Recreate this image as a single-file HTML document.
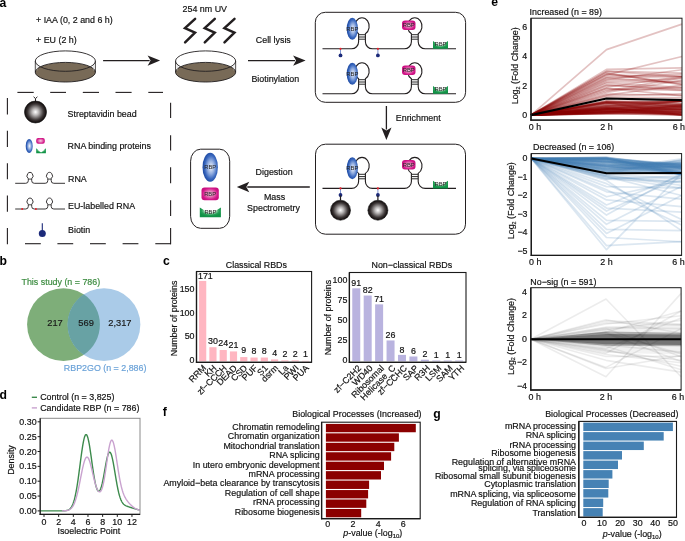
<!DOCTYPE html>
<html><head><meta charset="utf-8"><style>
html,body{margin:0;padding:0;background:#fff;width:685px;height:541px;overflow:hidden}
svg{display:block;will-change:transform}
text{font-family:"Liberation Sans",sans-serif;stroke:currentColor;stroke-width:0.18px}
</style></head><body>
<svg width="685" height="541" viewBox="0 0 685 541" font-family="Liberation Sans, sans-serif">
<rect width="685" height="541" fill="#fff"/>

<defs>
 <radialGradient id="bead" cx="0.5" cy="0.5" r="0.5" fx="0.5" fy="0.5">
  <stop offset="0" stop-color="#ffffff"/><stop offset="0.3" stop-color="#b9b6b6"/><stop offset="0.72" stop-color="#3e3838"/><stop offset="0.9" stop-color="#1e1818"/><stop offset="1" stop-color="#120d0d"/>
 </radialGradient>
 <radialGradient id="gblue" cx="0.55" cy="0.5" r="0.5">
  <stop offset="0" stop-color="#f4f7fd"/><stop offset="0.45" stop-color="#93aee0"/><stop offset="0.8" stop-color="#3b69bf"/><stop offset="1" stop-color="#2350a8"/>
 </radialGradient>
 <radialGradient id="gpink" cx="0.5" cy="0.5" r="0.55">
  <stop offset="0" stop-color="#f8d0e6"/><stop offset="0.45" stop-color="#e46cb0"/><stop offset="0.8" stop-color="#d3178a"/><stop offset="1" stop-color="#c90f7e"/>
 </radialGradient>
 <radialGradient id="ggreen" cx="0.5" cy="0.35" r="0.55">
  <stop offset="0" stop-color="#ffffff"/><stop offset="0.4" stop-color="#c4e5cf"/><stop offset="0.75" stop-color="#27a057"/><stop offset="1" stop-color="#119247"/>
 </radialGradient>
</defs>
<text x="-0.60" y="6.80" font-size="12.2" text-anchor="start" fill="#000" color="#000" font-weight="bold" style="stroke:none" >a</text>
<text x="-0.40" y="265.20" font-size="12.2" text-anchor="start" fill="#000" color="#000" font-weight="bold" style="stroke:none" >b</text>
<text x="163.00" y="265.20" font-size="12.2" text-anchor="start" fill="#000" color="#000" font-weight="bold" style="stroke:none" >c</text>
<text x="-0.40" y="398.80" font-size="12.2" text-anchor="start" fill="#000" color="#000" font-weight="bold" style="stroke:none" >d</text>
<text x="491.30" y="6.30" font-size="12.2" text-anchor="start" fill="#000" color="#000" font-weight="bold" style="stroke:none" >e</text>
<text x="162.80" y="416.20" font-size="12.2" text-anchor="start" fill="#000" color="#000" font-weight="bold" style="stroke:none" >f</text>
<text x="433.20" y="417.60" font-size="12.2" text-anchor="start" fill="#000" color="#000" font-weight="bold" style="stroke:none" >g</text>
<text x="36.00" y="22.90" font-size="8.9" text-anchor="start" fill="#111" color="#111" >+ IAA (0, 2 and 6 h)</text>
<text x="36.00" y="43.10" font-size="8.9" text-anchor="start" fill="#111" color="#111" >+ EU (2 h)</text>
<ellipse cx="65.35" cy="72.2" rx="30.05" ry="9.8" fill="#786a57" stroke="#231f20" stroke-width="0.9"/>
<line x1="35.30" y1="61.10" x2="35.30" y2="72.20" stroke="#231f20" stroke-width="0.8" />
<line x1="95.40" y1="61.10" x2="95.40" y2="72.20" stroke="#231f20" stroke-width="0.8" />
<line x1="37.05" y1="63.50" x2="37.05" y2="70.50" stroke="#bbb" stroke-width="0.5" />
<line x1="93.65" y1="63.50" x2="93.65" y2="70.50" stroke="#bbb" stroke-width="0.5" />
<ellipse cx="65.35" cy="61.1" rx="30.05" ry="10.2" fill="none" stroke="#231f20" stroke-width="0.9"/>
<ellipse cx="205.6" cy="72.2" rx="30.05" ry="9.8" fill="#786a57" stroke="#231f20" stroke-width="0.9"/>
<line x1="175.55" y1="61.10" x2="175.55" y2="72.20" stroke="#231f20" stroke-width="0.8" />
<line x1="235.65" y1="61.10" x2="235.65" y2="72.20" stroke="#231f20" stroke-width="0.8" />
<line x1="177.30" y1="63.50" x2="177.30" y2="70.50" stroke="#bbb" stroke-width="0.5" />
<line x1="233.90" y1="63.50" x2="233.90" y2="70.50" stroke="#bbb" stroke-width="0.5" />
<ellipse cx="205.6" cy="61.1" rx="30.05" ry="10.2" fill="none" stroke="#231f20" stroke-width="0.9"/>
<line x1="103.1" y1="60.6" x2="149.6" y2="60.6" stroke="#231f20" stroke-width="1.3"/>
<path d="M160.1,60.6 L147.6,55.4 L150.6,60.6 L147.6,65.8 Z" fill="#231f20"/>
<line x1="248" y1="60.6" x2="295.1" y2="60.6" stroke="#231f20" stroke-width="1.3"/>
<path d="M305.6,60.6 L293.1,55.4 L296.1,60.6 L293.1,65.8 Z" fill="#231f20"/>
<line x1="386.4" y1="106" x2="386.4" y2="129.5" stroke="#231f20" stroke-width="1.3"/>
<path d="M386.4,140 L381.29999999999995,127.5 L386.4,130.5 L391.5,127.5 Z" fill="#231f20"/>
<line x1="309.8" y1="187" x2="247.3" y2="187" stroke="#231f20" stroke-width="1.3"/>
<path d="M236.8,187 L249.3,181.8 L246.3,187 L249.3,192.2 Z" fill="#231f20"/>
<text x="182.60" y="12.00" font-size="8.9" text-anchor="start" fill="#111" color="#111" >254 nm UV</text>
<polyline points="195.1,18.9 185.0,28.1 195.0,32.6 185.1,42.4" fill="none" stroke="#231f20" stroke-width="2.5" stroke-linecap="round" stroke-linejoin="miter"/>
<polyline points="214.79999999999998,18.9 204.7,28.1 214.7,32.6 204.79999999999998,42.4" fill="none" stroke="#231f20" stroke-width="2.5" stroke-linecap="round" stroke-linejoin="miter"/>
<polyline points="234.5,18.9 224.4,28.1 234.4,32.6 224.5,42.4" fill="none" stroke="#231f20" stroke-width="2.5" stroke-linecap="round" stroke-linejoin="miter"/>
<text x="255.80" y="42.50" font-size="8.9" text-anchor="start" fill="#111" color="#111" >Cell lysis</text>
<text x="251.40" y="81.70" font-size="8.9" text-anchor="start" fill="#111" color="#111" >Biotinylation</text>
<text x="395.80" y="121.30" font-size="8.9" text-anchor="start" fill="#111" color="#111" >Enrichment</text>
<text x="255.60" y="174.70" font-size="8.9" text-anchor="start" fill="#111" color="#111" >Digestion</text>
<text x="274.50" y="199.70" font-size="8.9" text-anchor="middle" fill="#111" color="#111" >Mass</text>
<text x="273.50" y="211.30" font-size="8.9" text-anchor="middle" fill="#111" color="#111" >Spectrometry</text>
<rect x="315.3" y="12.3" width="150.3" height="90" rx="10" ry="10" fill="none" stroke="#231f20" stroke-width="1"/>
<rect x="315.5" y="144.2" width="150" height="90" rx="10" ry="10" fill="none" stroke="#231f20" stroke-width="1"/>
<rect x="190.6" y="149.2" width="39.1" height="79.1" rx="10" ry="12" fill="none" stroke="#231f20" stroke-width="1"/>
<path d="M322.5,48.8 L351.6,48.8 A7,7 0 0 0 358.6,41.8 L358.6,33.8 A7.2,8.5 0 1 1 365.40000000000003,33.8 L365.40000000000003,41.8 A7,7 0 0 0 372.40000000000003,48.8 L404.4,48.8 A7,7 0 0 0 411.4,41.8 L411.4,33.8 A7.2,8.5 0 1 1 418.2,33.8 L418.2,41.8 A7,7 0 0 0 425.2,48.8 L456,48.8" fill="none" stroke="#231f20" stroke-width="1.1"/>
<line x1="358.60" y1="34.70" x2="365.40" y2="34.70" stroke="#2a2a2a" stroke-width="1.0" />
<line x1="358.60" y1="37.00" x2="365.40" y2="37.00" stroke="#2a2a2a" stroke-width="1.0" />
<line x1="358.60" y1="39.20" x2="365.40" y2="39.20" stroke="#2a2a2a" stroke-width="1.0" />
<line x1="411.40" y1="34.70" x2="418.20" y2="34.70" stroke="#2a2a2a" stroke-width="1.0" />
<line x1="411.40" y1="37.00" x2="418.20" y2="37.00" stroke="#2a2a2a" stroke-width="1.0" />
<line x1="411.40" y1="39.20" x2="418.20" y2="39.20" stroke="#2a2a2a" stroke-width="1.0" />
<ellipse cx="352.3" cy="28.699999999999996" rx="5.6" ry="11" fill="url(#gblue)"/>
<text x="352.30" y="30.82" font-size="5.9" text-anchor="middle" fill="#222" color="#222" style="stroke:none" >RBP</text>
<rect x="402.0" y="20.499999999999996" width="13.5" height="9.5" rx="3" ry="3" fill="url(#gpink)"/>
<text x="408.75" y="27.37" font-size="5.9" text-anchor="middle" fill="#222" color="#222" style="stroke:none" >RBP</text>
<path d="M433.0,41.099999999999994 L437.20,44.03 L443.80,44.03 L448.0,41.099999999999994 L448.0,48.8 L433.0,48.8 Z" fill="url(#ggreen)"/>
<text x="440.50" y="46.49" font-size="5.9" text-anchor="middle" fill="#222" color="#222" style="stroke:none" >RBP</text>
<line x1="340.50" y1="48.80" x2="340.50" y2="54.30" stroke="#7087c8" stroke-width="0.9" />
<circle cx="340.5" cy="48.8" r="1.1" fill="#e8202a"/>
<circle cx="340.5" cy="55.4" r="1.9" fill="#1c2a7a"/>
<line x1="377.90" y1="48.80" x2="377.90" y2="54.30" stroke="#7087c8" stroke-width="0.9" />
<circle cx="377.9" cy="48.8" r="1.1" fill="#e8202a"/>
<circle cx="377.9" cy="55.4" r="1.9" fill="#1c2a7a"/>
<path d="M322.5,93.8 L351.6,93.8 A7,7 0 0 0 358.6,86.8 L358.6,78.8 A7.2,8.5 0 1 1 365.40000000000003,78.8 L365.40000000000003,86.8 A7,7 0 0 0 372.40000000000003,93.8 L404.4,93.8 A7,7 0 0 0 411.4,86.8 L411.4,78.8 A7.2,8.5 0 1 1 418.2,78.8 L418.2,86.8 A7,7 0 0 0 425.2,93.8 L456,93.8" fill="none" stroke="#231f20" stroke-width="1.1"/>
<line x1="358.60" y1="79.70" x2="365.40" y2="79.70" stroke="#2a2a2a" stroke-width="1.0" />
<line x1="358.60" y1="82.00" x2="365.40" y2="82.00" stroke="#2a2a2a" stroke-width="1.0" />
<line x1="358.60" y1="84.20" x2="365.40" y2="84.20" stroke="#2a2a2a" stroke-width="1.0" />
<line x1="411.40" y1="79.70" x2="418.20" y2="79.70" stroke="#2a2a2a" stroke-width="1.0" />
<line x1="411.40" y1="82.00" x2="418.20" y2="82.00" stroke="#2a2a2a" stroke-width="1.0" />
<line x1="411.40" y1="84.20" x2="418.20" y2="84.20" stroke="#2a2a2a" stroke-width="1.0" />
<ellipse cx="352.3" cy="73.69999999999999" rx="5.6" ry="11" fill="url(#gblue)"/>
<text x="352.30" y="75.82" font-size="5.9" text-anchor="middle" fill="#222" color="#222" style="stroke:none" >RBP</text>
<rect x="402.0" y="65.5" width="13.5" height="9.5" rx="3" ry="3" fill="url(#gpink)"/>
<text x="408.75" y="72.37" font-size="5.9" text-anchor="middle" fill="#222" color="#222" style="stroke:none" >RBP</text>
<path d="M433.0,86.1 L437.20,89.03 L443.80,89.03 L448.0,86.1 L448.0,93.8 L433.0,93.8 Z" fill="url(#ggreen)"/>
<text x="440.50" y="91.49" font-size="5.9" text-anchor="middle" fill="#222" color="#222" style="stroke:none" >RBP</text>
<path d="M322.5,188.4 L351.6,188.4 A7,7 0 0 0 358.6,181.4 L358.6,173.4 A7.2,8.5 0 1 1 365.40000000000003,173.4 L365.40000000000003,181.4 A7,7 0 0 0 372.40000000000003,188.4 L404.4,188.4 A7,7 0 0 0 411.4,181.4 L411.4,173.4 A7.2,8.5 0 1 1 418.2,173.4 L418.2,181.4 A7,7 0 0 0 425.2,188.4 L456,188.4" fill="none" stroke="#231f20" stroke-width="1.1"/>
<line x1="358.60" y1="174.30" x2="365.40" y2="174.30" stroke="#2a2a2a" stroke-width="1.0" />
<line x1="358.60" y1="176.60" x2="365.40" y2="176.60" stroke="#2a2a2a" stroke-width="1.0" />
<line x1="358.60" y1="178.80" x2="365.40" y2="178.80" stroke="#2a2a2a" stroke-width="1.0" />
<line x1="411.40" y1="174.30" x2="418.20" y2="174.30" stroke="#2a2a2a" stroke-width="1.0" />
<line x1="411.40" y1="176.60" x2="418.20" y2="176.60" stroke="#2a2a2a" stroke-width="1.0" />
<line x1="411.40" y1="178.80" x2="418.20" y2="178.80" stroke="#2a2a2a" stroke-width="1.0" />
<ellipse cx="352.3" cy="168.3" rx="5.6" ry="11" fill="url(#gblue)"/>
<text x="352.30" y="170.42" font-size="5.9" text-anchor="middle" fill="#222" color="#222" style="stroke:none" >RBP</text>
<rect x="402.0" y="160.1" width="13.5" height="9.5" rx="3" ry="3" fill="url(#gpink)"/>
<text x="408.75" y="166.97" font-size="5.9" text-anchor="middle" fill="#222" color="#222" style="stroke:none" >RBP</text>
<path d="M433.0,180.70000000000002 L437.20,183.63 L443.80,183.63 L448.0,180.70000000000002 L448.0,188.4 L433.0,188.4 Z" fill="url(#ggreen)"/>
<text x="440.50" y="186.09" font-size="5.9" text-anchor="middle" fill="#222" color="#222" style="stroke:none" >RBP</text>
<line x1="340.50" y1="188.40" x2="340.50" y2="193.90" stroke="#7087c8" stroke-width="0.9" />
<circle cx="340.5" cy="188.4" r="1.1" fill="#e8202a"/>
<circle cx="340.5" cy="195.0" r="1.9" fill="#1c2a7a"/>
<line x1="340.50" y1="195.40" x2="340.50" y2="200.40" stroke="#231f20" stroke-width="1.2" />
<circle cx="340.5" cy="210.20000000000002" r="10" fill="url(#bead)" stroke="#111" stroke-width="0.6"/>
<line x1="377.90" y1="188.40" x2="377.90" y2="193.90" stroke="#7087c8" stroke-width="0.9" />
<circle cx="377.9" cy="188.4" r="1.1" fill="#e8202a"/>
<circle cx="377.9" cy="195.0" r="1.9" fill="#1c2a7a"/>
<line x1="377.90" y1="195.40" x2="377.90" y2="200.40" stroke="#231f20" stroke-width="1.2" />
<circle cx="377.9" cy="210.20000000000002" r="10" fill="url(#bead)" stroke="#111" stroke-width="0.6"/>
<ellipse cx="210.2" cy="167.2" rx="7.7" ry="14.5" fill="url(#gblue)"/>
<text x="210.20" y="169.29" font-size="5.8" text-anchor="middle" fill="#222" color="#222" style="stroke:none" >RBP</text>
<rect x="201.5" y="187.4" width="17.3" height="12.9" rx="3" ry="3" fill="url(#gpink)"/>
<text x="210.15" y="195.94" font-size="5.8" text-anchor="middle" fill="#222" color="#222" style="stroke:none" >RBP</text>
<path d="M199.8,207.4 L205.71,211.16 L214.99,211.16 L220.9,207.4 L220.9,217.3 L199.8,217.3 Z" fill="url(#ggreen)"/>
<text x="210.35" y="214.33" font-size="5.8" text-anchor="middle" fill="#222" color="#222" style="stroke:none" >RBP</text>
<line x1="17.40" y1="92.40" x2="33.70" y2="92.40" stroke="#231f20" stroke-width="1.1" />
<line x1="50.20" y1="92.40" x2="66.00" y2="92.40" stroke="#231f20" stroke-width="1.1" />
<line x1="82.80" y1="92.40" x2="99.00" y2="92.40" stroke="#231f20" stroke-width="1.1" />
<line x1="115.50" y1="92.40" x2="131.60" y2="92.40" stroke="#231f20" stroke-width="1.1" />
<line x1="148.30" y1="92.40" x2="163.00" y2="92.40" stroke="#231f20" stroke-width="1.1" />
<line x1="25.00" y1="243.70" x2="40.80" y2="243.70" stroke="#231f20" stroke-width="1.1" />
<line x1="57.40" y1="243.70" x2="73.20" y2="243.70" stroke="#231f20" stroke-width="1.1" />
<line x1="90.00" y1="243.70" x2="105.80" y2="243.70" stroke="#231f20" stroke-width="1.1" />
<line x1="122.60" y1="243.70" x2="138.40" y2="243.70" stroke="#231f20" stroke-width="1.1" />
<line x1="155.30" y1="243.70" x2="171.00" y2="243.70" stroke="#231f20" stroke-width="1.1" />
<line x1="7.40" y1="98.00" x2="7.40" y2="114.50" stroke="#231f20" stroke-width="1.1" />
<line x1="7.40" y1="130.80" x2="7.40" y2="147.00" stroke="#231f20" stroke-width="1.1" />
<line x1="7.40" y1="163.20" x2="7.40" y2="179.20" stroke="#231f20" stroke-width="1.1" />
<line x1="7.40" y1="195.50" x2="7.40" y2="211.70" stroke="#231f20" stroke-width="1.1" />
<line x1="7.40" y1="227.90" x2="7.40" y2="244.20" stroke="#231f20" stroke-width="1.1" />
<line x1="170.60" y1="102.70" x2="170.60" y2="118.00" stroke="#231f20" stroke-width="1.1" />
<line x1="170.60" y1="135.30" x2="170.60" y2="150.50" stroke="#231f20" stroke-width="1.1" />
<line x1="170.60" y1="167.30" x2="170.60" y2="183.20" stroke="#231f20" stroke-width="1.1" />
<line x1="170.60" y1="200.20" x2="170.60" y2="216.00" stroke="#231f20" stroke-width="1.1" />
<line x1="170.60" y1="228.00" x2="170.60" y2="244.20" stroke="#231f20" stroke-width="1.1" />
<circle cx="35.5" cy="112" r="11" fill="url(#bead)" stroke="#111" stroke-width="0.6"/>
<path d="M35.5,101 L35.5,98.6 M35.5,98.6 L33.6,96.8 M35.5,98.6 L37.4,96.8" stroke="#231f20" stroke-width="1" fill="none"/>
<text x="67.60" y="116.80" font-size="8.9" text-anchor="start" fill="#111" color="#111" >Streptavidin bead</text>
<ellipse cx="29.2" cy="146" rx="3.5" ry="7" fill="url(#gblue)"/>
<rect x="36.2" y="137.9" width="8.6" height="5.9" rx="2" ry="2" fill="url(#gpink)"/>
<path d="M36.2,148.3 L41.05,152.6 L45.9,148.3 L45.9,153.3 L36.2,153.3 Z" fill="url(#ggreen)"/>
<text x="67.60" y="148.80" font-size="8.9" text-anchor="start" fill="#111" color="#111" >RNA binding proteins</text>
<path d="M15.2,183.3 L25.7,183.3 A2.6,2.6 0 0 0 28.3,180.70000000000002 L28.3,178.70000000000002 A2.95,3.5 0 1 1 31.7,178.70000000000002 L31.7,180.70000000000002 A2.6,2.6 0 0 0 34.3,183.3 L45.199999999999996,183.3 A2.6,2.6 0 0 0 47.8,180.70000000000002 L47.8,178.70000000000002 A2.95,3.5 0 1 1 51.199999999999996,178.70000000000002 L51.199999999999996,180.70000000000002 A2.6,2.6 0 0 0 53.8,183.3 L65,183.3" fill="none" stroke="#231f20" stroke-width="0.9"/>
<line x1="28.30" y1="179.10" x2="31.70" y2="179.10" stroke="#333" stroke-width="0.9" />
<line x1="47.80" y1="179.10" x2="51.20" y2="179.10" stroke="#333" stroke-width="0.9" />
<text x="68.00" y="182.40" font-size="8.9" text-anchor="start" fill="#111" color="#111" >RNA</text>
<path d="M15.2,209.0 L25.7,209.0 A2.6,2.6 0 0 0 28.3,206.4 L28.3,204.4 A2.95,3.5 0 1 1 31.7,204.4 L31.7,206.4 A2.6,2.6 0 0 0 34.3,209.0 L45.199999999999996,209.0 A2.6,2.6 0 0 0 47.8,206.4 L47.8,204.4 A2.95,3.5 0 1 1 51.199999999999996,204.4 L51.199999999999996,206.4 A2.6,2.6 0 0 0 53.8,209.0 L65,209.0" fill="none" stroke="#231f20" stroke-width="0.9"/>
<line x1="28.30" y1="204.80" x2="31.70" y2="204.80" stroke="#333" stroke-width="0.9" />
<line x1="47.80" y1="204.80" x2="51.20" y2="204.80" stroke="#333" stroke-width="0.9" />
<circle cx="22.2" cy="209.0" r="1" fill="#e8202a"/>
<circle cx="35.9" cy="209.0" r="1" fill="#e8202a"/>
<text x="68.00" y="208.60" font-size="8.9" text-anchor="start" fill="#111" color="#111" >EU-labelled RNA</text>
<line x1="42.30" y1="223.30" x2="42.30" y2="231.00" stroke="#1c2a7a" stroke-width="1.1" />
<circle cx="42.3" cy="233.4" r="3.5" fill="#1c2a7a"/>
<text x="68.00" y="233.20" font-size="8.9" text-anchor="start" fill="#111" color="#111" >Biotin</text>
<circle cx="63.5" cy="324.6" r="36.4" fill="#7eae79"/>
<circle cx="104" cy="324.6" r="36.35" fill="#aacbe8"/>
<path d="M83.75,294.35 A36.4,36.4 0 0 1 83.75,354.85 A36.35,36.35 0 0 1 83.75,294.35 Z" fill="#68a2a4"/>
<text x="55.00" y="325.90" font-size="9.3" text-anchor="middle" fill="#1a1a1a" color="#1a1a1a" >217</text>
<text x="86.10" y="325.90" font-size="9.3" text-anchor="middle" fill="#1a1a1a" color="#1a1a1a" >569</text>
<text x="119.90" y="325.90" font-size="9.3" text-anchor="middle" fill="#1a1a1a" color="#1a1a1a" >2,317</text>
<text x="21.50" y="285.00" font-size="8.9" text-anchor="start" fill="#3b8b3f" color="#3b8b3f" >This study (n = 786)</text>
<text x="63.80" y="371.40" font-size="8.9" text-anchor="start" fill="#6aa2d8" color="#6aa2d8" >RBP2GO (n = 2,886)</text>
<rect x="199.07" y="280.93" width="7.19" height="80.37" fill="#ffb6c1"/>
<text x="198.00" y="279.30" font-size="8.9" text-anchor="start" fill="#111" color="#111" >171</text>
<text x="206.77" y="368.60" font-size="8.9" text-anchor="end" fill="#1a1a1a" transform="rotate(-45 206.77 368.60)">RRM</text>
<rect x="209.35" y="347.20" width="7.19" height="14.10" fill="#ffb6c1"/>
<text x="212.94" y="343.60" font-size="8.9" text-anchor="middle" fill="#111" color="#111" >30</text>
<text x="217.04" y="368.60" font-size="8.9" text-anchor="end" fill="#1a1a1a" transform="rotate(-45 217.04 368.60)">KH</text>
<rect x="219.62" y="350.02" width="7.19" height="11.28" fill="#ffb6c1"/>
<text x="223.22" y="346.42" font-size="8.9" text-anchor="middle" fill="#111" color="#111" >24</text>
<text x="227.32" y="368.60" font-size="8.9" text-anchor="end" fill="#1a1a1a" transform="rotate(-45 227.32 368.60)">zf&#8722;CCCH</text>
<rect x="229.90" y="351.43" width="7.19" height="9.87" fill="#ffb6c1"/>
<text x="233.50" y="347.83" font-size="8.9" text-anchor="middle" fill="#111" color="#111" >21</text>
<text x="237.60" y="368.60" font-size="8.9" text-anchor="end" fill="#1a1a1a" transform="rotate(-45 237.60 368.60)">DEAD</text>
<rect x="240.18" y="357.07" width="7.19" height="4.23" fill="#ffb6c1"/>
<text x="243.77" y="353.47" font-size="8.9" text-anchor="middle" fill="#111" color="#111" >9</text>
<text x="247.87" y="368.60" font-size="8.9" text-anchor="end" fill="#1a1a1a" transform="rotate(-45 247.87 368.60)">CSD</text>
<rect x="250.45" y="357.54" width="7.19" height="3.76" fill="#ffb6c1"/>
<text x="254.05" y="353.94" font-size="8.9" text-anchor="middle" fill="#111" color="#111" >8</text>
<text x="258.15" y="368.60" font-size="8.9" text-anchor="end" fill="#1a1a1a" transform="rotate(-45 258.15 368.60)">PUF</text>
<rect x="260.73" y="357.54" width="7.19" height="3.76" fill="#ffb6c1"/>
<text x="264.33" y="353.94" font-size="8.9" text-anchor="middle" fill="#111" color="#111" >8</text>
<text x="268.43" y="368.60" font-size="8.9" text-anchor="end" fill="#1a1a1a" transform="rotate(-45 268.43 368.60)">S1</text>
<rect x="271.01" y="359.42" width="7.19" height="1.88" fill="#ffb6c1"/>
<text x="274.60" y="355.82" font-size="8.9" text-anchor="middle" fill="#111" color="#111" >4</text>
<text x="278.70" y="368.60" font-size="8.9" text-anchor="end" fill="#1a1a1a" transform="rotate(-45 278.70 368.60)">dsrm</text>
<rect x="281.28" y="360.36" width="7.19" height="0.94" fill="#ffb6c1"/>
<text x="284.88" y="356.76" font-size="8.9" text-anchor="middle" fill="#111" color="#111" >2</text>
<text x="288.98" y="368.60" font-size="8.9" text-anchor="end" fill="#1a1a1a" transform="rotate(-45 288.98 368.60)">La</text>
<rect x="291.56" y="360.36" width="7.19" height="0.94" fill="#ffb6c1"/>
<text x="295.16" y="356.76" font-size="8.9" text-anchor="middle" fill="#111" color="#111" >2</text>
<text x="299.26" y="368.60" font-size="8.9" text-anchor="end" fill="#1a1a1a" transform="rotate(-45 299.26 368.60)">PWI</text>
<rect x="301.84" y="360.83" width="7.19" height="0.47" fill="#ffb6c1"/>
<text x="305.43" y="357.23" font-size="8.9" text-anchor="middle" fill="#111" color="#111" >1</text>
<text x="309.53" y="368.60" font-size="8.9" text-anchor="end" fill="#1a1a1a" transform="rotate(-45 309.53 368.60)">PUA</text>
<rect x="196.5" y="271.5" width="115.10000000000002" height="90.80000000000001" fill="none" stroke="#1a1a1a" stroke-width="1.1"/>
<line x1="196.50" y1="271.50" x2="196.50" y2="362.90" stroke="#1a1a1a" stroke-width="1.3" />
<line x1="195.90" y1="362.30" x2="311.60" y2="362.30" stroke="#1a1a1a" stroke-width="1.3" />
<text x="194.50" y="362.90" font-size="8.9" text-anchor="end" fill="#111" color="#111" >0</text>
<text x="194.50" y="339.40" font-size="8.9" text-anchor="end" fill="#111" color="#111" >50</text>
<text x="194.50" y="315.90" font-size="8.9" text-anchor="end" fill="#111" color="#111" >100</text>
<text x="194.50" y="292.40" font-size="8.9" text-anchor="end" fill="#111" color="#111" >150</text>
<text x="225.80" y="268.20" font-size="8.9" text-anchor="start" fill="#111" color="#111" >Classical RBDs</text>
<text x="177.3" y="318.4" font-size="8.9" text-anchor="middle" fill="#1a1a1a" transform="rotate(-90 177.3 318.4)">Number of proteins</text>
<rect x="352.26" y="288.32" width="8.00" height="72.98" fill="#b9b3df"/>
<text x="356.26" y="286.02" font-size="8.9" text-anchor="middle" fill="#111" color="#111" >91</text>
<text x="361.86" y="368.80" font-size="8.9" text-anchor="end" fill="#1a1a1a" transform="rotate(-45 361.86 368.80)">zf&#8722;C2H2</text>
<rect x="363.69" y="295.54" width="8.00" height="65.76" fill="#b9b3df"/>
<text x="367.69" y="293.24" font-size="8.9" text-anchor="middle" fill="#111" color="#111" >82</text>
<text x="373.29" y="368.80" font-size="8.9" text-anchor="end" fill="#1a1a1a" transform="rotate(-45 373.29 368.80)">WD40</text>
<rect x="375.12" y="304.36" width="8.00" height="56.94" fill="#b9b3df"/>
<text x="379.12" y="302.06" font-size="8.9" text-anchor="middle" fill="#111" color="#111" >71</text>
<text x="384.72" y="368.80" font-size="8.9" text-anchor="end" fill="#1a1a1a" transform="rotate(-45 384.72 368.80)">Ribosomal</text>
<rect x="386.55" y="340.45" width="8.00" height="20.85" fill="#b9b3df"/>
<text x="390.55" y="338.15" font-size="8.9" text-anchor="middle" fill="#111" color="#111" >26</text>
<text x="396.15" y="368.80" font-size="8.9" text-anchor="end" fill="#1a1a1a" transform="rotate(-45 396.15 368.80)">Helicase_C</text>
<rect x="397.98" y="354.88" width="8.00" height="6.42" fill="#b9b3df"/>
<text x="401.98" y="352.58" font-size="8.9" text-anchor="middle" fill="#111" color="#111" >8</text>
<text x="407.58" y="368.80" font-size="8.9" text-anchor="end" fill="#1a1a1a" transform="rotate(-45 407.58 368.80)">zf&#8722;CCHC</text>
<rect x="409.41" y="356.49" width="8.00" height="4.81" fill="#b9b3df"/>
<text x="413.42" y="354.19" font-size="8.9" text-anchor="middle" fill="#111" color="#111" >6</text>
<text x="419.02" y="368.80" font-size="8.9" text-anchor="end" fill="#1a1a1a" transform="rotate(-45 419.02 368.80)">SAP</text>
<rect x="420.85" y="359.70" width="8.00" height="1.60" fill="#b9b3df"/>
<text x="424.85" y="357.40" font-size="8.9" text-anchor="middle" fill="#111" color="#111" >2</text>
<text x="430.45" y="368.80" font-size="8.9" text-anchor="end" fill="#1a1a1a" transform="rotate(-45 430.45 368.80)">R3H</text>
<rect x="432.28" y="360.50" width="8.00" height="0.80" fill="#b9b3df"/>
<text x="436.28" y="358.20" font-size="8.9" text-anchor="middle" fill="#111" color="#111" >1</text>
<text x="441.88" y="368.80" font-size="8.9" text-anchor="end" fill="#1a1a1a" transform="rotate(-45 441.88 368.80)">LSM</text>
<rect x="443.71" y="360.50" width="8.00" height="0.80" fill="#b9b3df"/>
<text x="447.71" y="358.20" font-size="8.9" text-anchor="middle" fill="#111" color="#111" >1</text>
<text x="453.31" y="368.80" font-size="8.9" text-anchor="end" fill="#1a1a1a" transform="rotate(-45 453.31 368.80)">SAM</text>
<rect x="455.14" y="360.50" width="8.00" height="0.80" fill="#b9b3df"/>
<text x="459.14" y="358.20" font-size="8.9" text-anchor="middle" fill="#111" color="#111" >1</text>
<text x="464.74" y="368.80" font-size="8.9" text-anchor="end" fill="#1a1a1a" transform="rotate(-45 464.74 368.80)">YTH</text>
<rect x="349.4" y="272.5" width="116.60000000000002" height="89.80000000000001" fill="none" stroke="#1a1a1a" stroke-width="1.1"/>
<line x1="349.40" y1="272.50" x2="349.40" y2="362.90" stroke="#1a1a1a" stroke-width="1.3" />
<line x1="348.80" y1="362.30" x2="466.00" y2="362.30" stroke="#1a1a1a" stroke-width="1.3" />
<text x="347.40" y="362.90" font-size="8.9" text-anchor="end" fill="#111" color="#111" >0</text>
<text x="347.40" y="342.85" font-size="8.9" text-anchor="end" fill="#111" color="#111" >25</text>
<text x="347.40" y="322.80" font-size="8.9" text-anchor="end" fill="#111" color="#111" >50</text>
<text x="347.40" y="302.75" font-size="8.9" text-anchor="end" fill="#111" color="#111" >75</text>
<text x="347.40" y="282.70" font-size="8.9" text-anchor="end" fill="#111" color="#111" >100</text>
<text x="371.50" y="268.20" font-size="8.9" text-anchor="start" fill="#111" color="#111" >Non&#8722;classical RBDs</text>
<text x="331.2" y="317.6" font-size="8.9" text-anchor="middle" fill="#1a1a1a" transform="rotate(-90 331.2 317.6)">Number of proteins</text>
<rect x="40.2" y="418.3" width="99.8" height="96" fill="none" stroke="#8a8a8a" stroke-width="1"/>
<polyline points="40.19,510.90 40.60,510.90 41.02,510.90 41.43,510.90 41.85,510.90 42.27,510.90 42.68,510.90 43.10,510.90 43.51,510.90 43.93,510.90 44.34,510.90 44.76,510.90 45.17,510.90 45.59,510.90 46.00,510.90 46.42,510.90 46.83,510.90 47.25,510.90 47.66,510.90 48.08,510.90 48.50,510.90 48.91,510.90 49.33,510.90 49.74,510.90 50.16,510.90 50.57,510.90 50.99,510.90 51.40,510.90 51.82,510.90 52.23,510.90 52.65,510.90 53.06,510.90 53.48,510.90 53.90,510.90 54.31,510.90 54.73,510.90 55.14,510.90 55.56,510.90 55.97,510.90 56.39,510.90 56.80,510.90 57.22,510.90 57.63,510.90 58.05,510.90 58.46,510.90 58.88,510.90 59.30,510.90 59.71,510.89 60.13,510.89 60.54,510.89 60.96,510.89 61.37,510.88 61.79,510.88 62.20,510.87 62.62,510.86 63.03,510.85 63.45,510.84 63.86,510.82 64.28,510.79 64.70,510.76 65.11,510.73 65.53,510.68 65.94,510.62 66.36,510.55 66.77,510.46 67.19,510.35 67.60,510.22 68.02,510.06 68.43,509.87 68.85,509.64 69.26,509.37 69.68,509.05 70.09,508.67 70.51,508.23 70.93,507.71 71.34,507.12 71.76,506.43 72.17,505.64 72.59,504.74 73.00,503.73 73.42,502.58 73.83,501.31 74.25,499.88 74.66,498.31 75.08,496.58 75.49,494.68 75.91,492.63 76.33,490.42 76.74,488.04 77.16,485.51 77.57,482.84 77.99,480.03 78.40,477.10 78.82,474.07 79.23,470.96 79.65,467.80 80.06,464.60 80.48,461.41 80.89,458.25 81.31,455.15 81.73,452.15 82.14,449.29 82.56,446.59 82.97,444.09 83.39,441.83 83.80,439.83 84.22,438.12 84.63,436.73 85.05,435.66 85.46,434.95 85.88,434.59 86.29,434.59 86.71,434.95 87.12,435.67 87.54,436.73 87.96,438.11 88.37,439.80 88.79,441.77 89.20,443.99 89.62,446.43 90.03,449.05 90.45,451.82 90.86,454.70 91.28,457.66 91.69,460.64 92.11,463.63 92.52,466.58 92.94,469.46 93.36,472.24 93.77,474.89 94.19,477.40 94.60,479.74 95.02,481.89 95.43,483.83 95.85,485.57 96.26,487.08 96.68,488.36 97.09,489.41 97.51,490.23 97.92,490.80 98.34,491.14 98.76,491.24 99.17,491.11 99.59,490.74 100.00,490.14 100.42,489.32 100.83,488.28 101.25,487.03 101.66,485.57 102.08,483.93 102.49,482.11 102.91,480.14 103.32,478.03 103.74,475.82 104.15,473.53 104.57,471.19 104.99,468.83 105.40,466.50 105.82,464.23 106.23,462.05 106.65,460.01 107.06,458.14 107.48,456.47 107.89,455.04 108.31,453.88 108.72,452.99 109.14,452.41 109.55,452.15 109.97,452.21 110.39,452.58 110.80,453.27 111.22,454.26 111.63,455.54 112.05,457.08 112.46,458.85 112.88,460.83 113.29,462.98 113.71,465.28 114.12,467.68 114.54,470.15 114.95,472.66 115.37,475.18 115.79,477.68 116.20,480.12 116.62,482.49 117.03,484.77 117.45,486.94 117.86,488.99 118.28,490.90 118.69,492.67 119.11,494.31 119.52,495.80 119.94,497.15 120.35,498.37 120.77,499.45 121.18,500.42 121.60,501.28 122.02,502.03 122.43,502.68 122.85,503.26 123.26,503.75 123.68,504.19 124.09,504.56 124.51,504.89 124.92,505.18 125.34,505.43 125.75,505.66 126.17,505.86 126.58,506.04 127.00,506.21 127.42,506.37 127.83,506.52 128.25,506.67 128.66,506.81 129.08,506.95 129.49,507.09 129.91,507.22 130.32,507.36 130.74,507.49 131.15,507.63 131.57,507.76 131.98,507.90 132.40,508.03 132.82,508.17 133.23,508.30 133.65,508.43 134.06,508.56 134.48,508.68 134.89,508.80 135.31,508.92 135.72,509.04 136.14,509.16 136.55,509.27 136.97,509.37 137.38,509.47 137.80,509.57 138.21,509.67 138.63,509.76 139.05,509.84 139.46,509.92 139.88,510.00" fill="none" stroke="#3c8a4c" stroke-width="1.4" stroke-linejoin="round"/>
<polyline points="61.96,510.88 62.28,510.87 62.61,510.86 62.93,510.86 63.26,510.85 63.58,510.83 63.91,510.82 64.23,510.81 64.56,510.79 64.88,510.77 65.21,510.74 65.53,510.71 65.85,510.67 66.18,510.63 66.50,510.59 66.83,510.53 67.15,510.47 67.48,510.39 67.80,510.31 68.13,510.21 68.45,510.10 68.78,509.98 69.10,509.83 69.43,509.67 69.75,509.49 70.07,509.28 70.40,509.05 70.72,508.79 71.05,508.50 71.37,508.18 71.70,507.83 72.02,507.43 72.35,507.00 72.67,506.52 73.00,506.00 73.32,505.43 73.65,504.81 73.97,504.13 74.30,503.40 74.62,502.62 74.94,501.77 75.27,500.87 75.59,499.90 75.92,498.87 76.24,497.78 76.57,496.63 76.89,495.41 77.22,494.14 77.54,492.81 77.87,491.42 78.19,489.98 78.52,488.50 78.84,486.97 79.17,485.40 79.49,483.80 79.81,482.17 80.14,480.53 80.46,478.87 80.79,477.21 81.11,475.56 81.44,473.92 81.76,472.30 82.09,470.72 82.41,469.18 82.74,467.70 83.06,466.28 83.39,464.93 83.71,463.66 84.04,462.48 84.36,461.40 84.68,460.43 85.01,459.57 85.33,458.83 85.66,458.22 85.98,457.73 86.31,457.38 86.63,457.16 86.96,457.08 87.28,457.13 87.61,457.32 87.93,457.64 88.26,458.09 88.58,458.66 88.91,459.35 89.23,460.16 89.55,461.06 89.88,462.07 90.20,463.15 90.53,464.32 90.85,465.55 91.18,466.84 91.50,468.18 91.83,469.54 92.15,470.93 92.48,472.34 92.80,473.75 93.13,475.15 93.45,476.53 93.77,477.89 94.10,479.22 94.42,480.50 94.75,481.74 95.07,482.93 95.40,484.06 95.72,485.13 96.05,486.13 96.37,487.06 96.70,487.91 97.02,488.69 97.35,489.40 97.67,490.02 98.00,490.55 98.32,491.00 98.64,491.35 98.97,491.61 99.29,491.77 99.62,491.83 99.94,491.78 100.27,491.61 100.59,491.33 100.92,490.93 101.24,490.39 101.57,489.73 101.89,488.94 102.22,488.00 102.54,486.93 102.87,485.72 103.19,484.37 103.51,482.89 103.84,481.28 104.16,479.55 104.49,477.70 104.81,475.74 105.14,473.69 105.46,471.56 105.79,469.36 106.11,467.12 106.44,464.84 106.76,462.56 107.09,460.28 107.41,458.03 107.74,455.83 108.06,453.70 108.38,451.67 108.71,449.74 109.03,447.95 109.36,446.31 109.68,444.84 110.01,443.55 110.33,442.45 110.66,441.56 110.98,440.88 111.31,440.42 111.63,440.19 111.96,440.18 112.28,440.39 112.61,440.82 112.93,441.47 113.25,442.32 113.58,443.36 113.90,444.59 114.23,445.98 114.55,447.52 114.88,449.20 115.20,451.00 115.53,452.89 115.85,454.87 116.18,456.91 116.50,459.00 116.83,461.11 117.15,463.24 117.48,465.36 117.80,467.47 118.12,469.54 118.45,471.58 118.77,473.56 119.10,475.48 119.42,477.33 119.75,479.11 120.07,480.80 120.40,482.42 120.72,483.95 121.05,485.40 121.37,486.77 121.70,488.05 122.02,489.25 122.34,490.38 122.67,491.43 122.99,492.41 123.32,493.32 123.64,494.18 123.97,494.98 124.29,495.72 124.62,496.42 124.94,497.07 125.27,497.69 125.59,498.27 125.92,498.82 126.24,499.34 126.57,499.83 126.89,500.30 127.21,500.76 127.54,501.19 127.86,501.61 128.19,502.02 128.51,502.41 128.84,502.79 129.16,503.16 129.49,503.52 129.81,503.87 130.14,504.21 130.46,504.55 130.79,504.87 131.11,505.18 131.44,505.49 131.76,505.79 132.08,506.07 132.41,506.35 132.73,506.62 133.06,506.88 133.38,507.13 133.71,507.37 134.03,507.60 134.36,507.82 134.68,508.03 135.01,508.23 135.33,508.42 135.66,508.60 135.98,508.77 136.31,508.94 136.63,509.09 136.95,509.23 137.28,509.37 137.60,509.50 137.93,509.61 138.25,509.72 138.58,509.83 138.90,509.92 139.23,510.01 139.55,510.09 139.88,510.17" fill="none" stroke="#c9a2cf" stroke-width="1.4" stroke-linejoin="round"/>
<line x1="40.20" y1="418.30" x2="40.20" y2="514.90" stroke="#1a1a1a" stroke-width="1.2" />
<line x1="39.60" y1="514.30" x2="140.10" y2="514.30" stroke="#1a1a1a" stroke-width="1.2" />
<line x1="37.60" y1="510.90" x2="40.20" y2="510.90" stroke="#1a1a1a" stroke-width="1" />
<text x="36.60" y="514.00" font-size="8.9" text-anchor="end" fill="#111" color="#111" >0.00</text>
<line x1="37.60" y1="496.05" x2="40.20" y2="496.05" stroke="#1a1a1a" stroke-width="1" />
<text x="36.60" y="499.15" font-size="8.9" text-anchor="end" fill="#111" color="#111" >0.05</text>
<line x1="37.60" y1="481.20" x2="40.20" y2="481.20" stroke="#1a1a1a" stroke-width="1" />
<text x="36.60" y="484.30" font-size="8.9" text-anchor="end" fill="#111" color="#111" >0.10</text>
<line x1="37.60" y1="466.35" x2="40.20" y2="466.35" stroke="#1a1a1a" stroke-width="1" />
<text x="36.60" y="469.45" font-size="8.9" text-anchor="end" fill="#111" color="#111" >0.15</text>
<line x1="37.60" y1="451.50" x2="40.20" y2="451.50" stroke="#1a1a1a" stroke-width="1" />
<text x="36.60" y="454.60" font-size="8.9" text-anchor="end" fill="#111" color="#111" >0.20</text>
<line x1="37.60" y1="436.65" x2="40.20" y2="436.65" stroke="#1a1a1a" stroke-width="1" />
<text x="36.60" y="439.75" font-size="8.9" text-anchor="end" fill="#111" color="#111" >0.25</text>
<line x1="37.60" y1="421.80" x2="40.20" y2="421.80" stroke="#1a1a1a" stroke-width="1" />
<text x="36.60" y="424.90" font-size="8.9" text-anchor="end" fill="#111" color="#111" >0.30</text>
<line x1="44.00" y1="514.30" x2="44.00" y2="516.90" stroke="#1a1a1a" stroke-width="1" />
<text x="44.00" y="525.40" font-size="8.9" text-anchor="middle" fill="#111" color="#111" >0</text>
<line x1="58.66" y1="514.30" x2="58.66" y2="516.90" stroke="#1a1a1a" stroke-width="1" />
<text x="58.66" y="525.40" font-size="8.9" text-anchor="middle" fill="#111" color="#111" >2</text>
<line x1="73.32" y1="514.30" x2="73.32" y2="516.90" stroke="#1a1a1a" stroke-width="1" />
<text x="73.32" y="525.40" font-size="8.9" text-anchor="middle" fill="#111" color="#111" >4</text>
<line x1="87.98" y1="514.30" x2="87.98" y2="516.90" stroke="#1a1a1a" stroke-width="1" />
<text x="87.98" y="525.40" font-size="8.9" text-anchor="middle" fill="#111" color="#111" >6</text>
<line x1="102.64" y1="514.30" x2="102.64" y2="516.90" stroke="#1a1a1a" stroke-width="1" />
<text x="102.64" y="525.40" font-size="8.9" text-anchor="middle" fill="#111" color="#111" >8</text>
<line x1="117.30" y1="514.30" x2="117.30" y2="516.90" stroke="#1a1a1a" stroke-width="1" />
<text x="117.30" y="525.40" font-size="8.9" text-anchor="middle" fill="#111" color="#111" >10</text>
<line x1="131.96" y1="514.30" x2="131.96" y2="516.90" stroke="#1a1a1a" stroke-width="1" />
<text x="131.96" y="525.40" font-size="8.9" text-anchor="middle" fill="#111" color="#111" >12</text>
<text x="88.80" y="534.40" font-size="8.9" text-anchor="middle" fill="#111" color="#111" >Isoelectric Point</text>
<text x="14.2" y="460" font-size="8.9" text-anchor="middle" fill="#1a1a1a" transform="rotate(-90 14.2 460)">Density</text>
<line x1="31.80" y1="397.30" x2="37.00" y2="397.30" stroke="#3c8a4c" stroke-width="1.4" />
<line x1="31.80" y1="407.90" x2="37.00" y2="407.90" stroke="#c9a2cf" stroke-width="1.4" />
<text x="40.20" y="399.90" font-size="8.9" text-anchor="start" fill="#111" color="#111" >Control (n = 3,825)</text>
<text x="40.20" y="410.50" font-size="8.9" text-anchor="start" fill="#111" color="#111" >Candidate RBP (n = 786)</text>
<g stroke="#8b0000" stroke-opacity="0.24" stroke-width="1.7" fill="none" stroke-linejoin="round">
<polyline points="531.0,115.10 606.5,72.86 682.0,84.93"/>
<polyline points="531.0,115.10 606.5,109.04 682.0,109.66"/>
<polyline points="531.0,115.10 606.5,79.78 682.0,69.72"/>
<polyline points="531.0,115.10 606.5,102.31 682.0,105.18"/>
<polyline points="531.0,115.10 606.5,109.41 682.0,109.09"/>
<polyline points="531.0,115.10 606.5,112.05 682.0,112.84"/>
<polyline points="531.0,115.10 606.5,112.31 682.0,110.32"/>
<polyline points="531.0,115.10 606.5,101.12 682.0,104.29"/>
<polyline points="531.0,115.10 606.5,113.69 682.0,113.59"/>
<polyline points="531.0,115.10 606.5,102.30 682.0,103.84"/>
<polyline points="531.0,115.10 606.5,91.09 682.0,77.65"/>
<polyline points="531.0,115.10 606.5,109.44 682.0,107.65"/>
<polyline points="531.0,115.10 606.5,103.45 682.0,101.18"/>
<polyline points="531.0,115.10 606.5,102.91 682.0,106.43"/>
<polyline points="531.0,115.10 606.5,109.12 682.0,101.18"/>
<polyline points="531.0,115.10 606.5,102.46 682.0,114.81"/>
<polyline points="531.0,115.10 606.5,107.02 682.0,108.41"/>
<polyline points="531.0,115.10 606.5,102.03 682.0,101.18"/>
<polyline points="531.0,115.10 606.5,107.05 682.0,109.74"/>
<polyline points="531.0,115.10 606.5,109.58 682.0,111.87"/>
<polyline points="531.0,115.10 606.5,102.62 682.0,109.99"/>
<polyline points="531.0,115.10 606.5,95.17 682.0,85.06"/>
<polyline points="531.0,115.10 606.5,104.96 682.0,101.18"/>
<polyline points="531.0,115.10 606.5,113.76 682.0,114.81"/>
<polyline points="531.0,115.10 606.5,94.01 682.0,95.27"/>
<polyline points="531.0,115.10 606.5,71.42 682.0,76.47"/>
<polyline points="531.0,115.10 606.5,83.03 682.0,87.24"/>
<polyline points="531.0,115.10 606.5,113.36 682.0,111.57"/>
<polyline points="531.0,115.10 606.5,107.48 682.0,106.46"/>
<polyline points="531.0,115.10 606.5,112.48 682.0,106.21"/>
<polyline points="531.0,115.10 606.5,110.27 682.0,111.39"/>
<polyline points="531.0,115.10 606.5,88.54 682.0,90.34"/>
<polyline points="531.0,115.10 606.5,111.67 682.0,113.07"/>
<polyline points="531.0,115.10 606.5,106.67 682.0,107.84"/>
<polyline points="531.0,115.10 606.5,110.91 682.0,111.12"/>
<polyline points="531.0,115.10 606.5,105.71 682.0,105.01"/>
<polyline points="531.0,115.10 606.5,111.78 682.0,111.83"/>
<polyline points="531.0,115.10 606.5,107.98 682.0,101.18"/>
<polyline points="531.0,115.10 606.5,111.80 682.0,108.34"/>
<polyline points="531.0,115.10 606.5,101.04 682.0,101.18"/>
<polyline points="531.0,115.10 606.5,69.36 682.0,67.93"/>
<polyline points="531.0,115.10 606.5,107.95 682.0,114.81"/>
<polyline points="531.0,115.10 606.5,111.39 682.0,109.03"/>
<polyline points="531.0,115.10 606.5,111.04 682.0,106.97"/>
<polyline points="531.0,115.10 606.5,109.19 682.0,105.44"/>
<polyline points="531.0,115.10 606.5,111.29 682.0,114.81"/>
<polyline points="531.0,115.10 606.5,110.70 682.0,114.81"/>
<polyline points="531.0,115.10 606.5,113.71 682.0,114.81"/>
<polyline points="531.0,115.10 606.5,101.06 682.0,106.84"/>
<polyline points="531.0,115.10 606.5,110.47 682.0,109.96"/>
<polyline points="531.0,115.10 606.5,74.81 682.0,56.50"/>
<polyline points="531.0,115.10 606.5,84.88 682.0,90.25"/>
<polyline points="531.0,115.10 606.5,113.16 682.0,113.22"/>
<polyline points="531.0,115.10 606.5,85.36 682.0,88.60"/>
<polyline points="531.0,115.10 606.5,108.82 682.0,112.79"/>
<polyline points="531.0,115.10 606.5,90.00 682.0,87.64"/>
<polyline points="531.0,115.10 606.5,101.82 682.0,103.86"/>
<polyline points="531.0,115.10 606.5,112.98 682.0,108.08"/>
<polyline points="531.0,115.10 606.5,92.46 682.0,80.43"/>
<polyline points="531.0,115.10 606.5,106.05 682.0,101.75"/>
<polyline points="531.0,115.10 606.5,105.66 682.0,107.05"/>
<polyline points="531.0,115.10 606.5,103.09 682.0,101.18"/>
<polyline points="531.0,115.10 606.5,49.61 682.0,24.12"/>
<polyline points="531.0,115.10 606.5,97.15 682.0,97.87"/>
<polyline points="531.0,115.10 606.5,103.56 682.0,111.77"/>
<polyline points="531.0,115.10 606.5,104.59 682.0,105.61"/>
<polyline points="531.0,115.10 606.5,106.36 682.0,101.18"/>
<polyline points="531.0,115.10 606.5,112.40 682.0,105.06"/>
<polyline points="531.0,115.10 606.5,78.40 682.0,82.91"/>
<polyline points="531.0,115.10 606.5,110.99 682.0,114.81"/>
<polyline points="531.0,115.10 606.5,77.62 682.0,76.73"/>
<polyline points="531.0,115.10 606.5,95.76 682.0,93.80"/>
<polyline points="531.0,115.10 606.5,80.61 682.0,78.76"/>
<polyline points="531.0,115.10 606.5,74.94 682.0,76.76"/>
<polyline points="531.0,115.10 606.5,76.78 682.0,74.42"/>
<polyline points="531.0,115.10 606.5,107.54 682.0,112.79"/>
<polyline points="531.0,115.10 606.5,113.23 682.0,110.18"/>
<polyline points="531.0,115.10 606.5,109.11 682.0,105.79"/>
<polyline points="531.0,115.10 606.5,108.64 682.0,104.41"/>
<polyline points="531.0,115.10 606.5,87.03 682.0,76.70"/>
<polyline points="531.0,115.10 606.5,110.49 682.0,106.65"/>
<polyline points="531.0,115.10 606.5,112.69 682.0,113.42"/>
<polyline points="531.0,115.10 606.5,73.67 682.0,84.26"/>
<polyline points="531.0,115.10 606.5,107.73 682.0,114.81"/>
<polyline points="531.0,115.10 606.5,71.17 682.0,73.16"/>
<polyline points="531.0,115.10 606.5,108.73 682.0,114.81"/>
<polyline points="531.0,115.10 606.5,82.15 682.0,81.40"/>
<polyline points="531.0,115.10 606.5,109.11 682.0,109.26"/>
<polyline points="531.0,115.10 606.5,88.21 682.0,95.90"/>
</g>
<polyline points="531.0,115.10 606.5,98.55 682.0,100.16" fill="none" stroke="#000" stroke-width="2.1" stroke-linejoin="round"/>
<rect x="531" y="18.2" width="151" height="101.89999999999999" fill="none" stroke="#1a1a1a" stroke-width="1.0"/>
<line x1="531.00" y1="18.20" x2="531.00" y2="120.70" stroke="#1a1a1a" stroke-width="1.4" />
<line x1="530.40" y1="120.10" x2="682.00" y2="120.10" stroke="#1a1a1a" stroke-width="1.4" />
<text x="527.20" y="117.80" font-size="8.9" text-anchor="end" fill="#111" color="#111" >0</text>
<text x="527.20" y="88.50" font-size="8.9" text-anchor="end" fill="#111" color="#111" >2</text>
<text x="527.20" y="59.20" font-size="8.9" text-anchor="end" fill="#111" color="#111" >4</text>
<text x="527.20" y="29.90" font-size="8.9" text-anchor="end" fill="#111" color="#111" >6</text>
<text x="529.60" y="14.70" font-size="8.9" text-anchor="start" fill="#111" color="#111" >Increased (n = 89)</text>
<text x="528.80" y="129.70" font-size="8.9" text-anchor="start" fill="#111" color="#111" >0 h</text>
<text x="606.50" y="129.70" font-size="8.9" text-anchor="middle" fill="#111" color="#111" >2 h</text>
<text x="672.70" y="129.70" font-size="8.9" text-anchor="start" fill="#111" color="#111" >6 h</text>
<text x="518.3" y="65.8" font-size="8.9" text-anchor="middle" fill="#1a1a1a" transform="rotate(-90 518.3 65.8)">Log<tspan font-size="5.3" dy="1.9">2</tspan><tspan dy="-1.9"> (Fold Change)</tspan></text>
<g stroke="#4682b4" stroke-opacity="0.19" stroke-width="1.7" fill="none" stroke-linejoin="round">
<polyline points="531.3,158.50 606.5,166.77 681.6,170.87"/>
<polyline points="531.3,158.50 606.5,172.74 681.6,165.41"/>
<polyline points="531.3,158.50 606.5,167.63 681.6,166.73"/>
<polyline points="531.3,158.50 606.5,165.92 681.6,169.78"/>
<polyline points="531.3,158.50 606.5,164.90 681.6,167.18"/>
<polyline points="531.3,158.50 606.5,165.34 681.6,173.83"/>
<polyline points="531.3,158.50 606.5,169.11 681.6,172.77"/>
<polyline points="531.3,158.50 606.5,173.24 681.6,162.32"/>
<polyline points="531.3,158.50 606.5,166.73 681.6,173.86"/>
<polyline points="531.3,158.50 606.5,171.50 681.6,160.25"/>
<polyline points="531.3,158.50 606.5,159.28 681.6,168.28"/>
<polyline points="531.3,158.50 606.5,158.44 681.6,165.93"/>
<polyline points="531.3,158.50 606.5,158.45 681.6,170.93"/>
<polyline points="531.3,158.50 606.5,170.55 681.6,173.05"/>
<polyline points="531.3,158.50 606.5,159.83 681.6,171.47"/>
<polyline points="531.3,158.50 606.5,168.44 681.6,160.83"/>
<polyline points="531.3,158.50 606.5,172.23 681.6,174.23"/>
<polyline points="531.3,158.50 606.5,160.94 681.6,174.23"/>
<polyline points="531.3,158.50 606.5,163.98 681.6,168.80"/>
<polyline points="531.3,158.50 606.5,174.05 681.6,171.96"/>
<polyline points="531.3,158.50 606.5,159.95 681.6,168.15"/>
<polyline points="531.3,158.50 606.5,165.98 681.6,164.02"/>
<polyline points="531.3,158.50 606.5,160.54 681.6,166.84"/>
<polyline points="531.3,158.50 606.5,169.50 681.6,158.82"/>
<polyline points="531.3,158.50 606.5,166.63 681.6,165.67"/>
<polyline points="531.3,158.50 606.5,157.51 681.6,166.99"/>
<polyline points="531.3,158.50 606.5,167.82 681.6,166.84"/>
<polyline points="531.3,158.50 606.5,158.30 681.6,174.61"/>
<polyline points="531.3,158.50 606.5,170.62 681.6,174.30"/>
<polyline points="531.3,158.50 606.5,158.99 681.6,166.22"/>
<polyline points="531.3,158.50 606.5,157.88 681.6,172.20"/>
<polyline points="531.3,158.50 606.5,161.81 681.6,164.63"/>
<polyline points="531.3,158.50 606.5,164.39 681.6,173.34"/>
<polyline points="531.3,158.50 606.5,171.14 681.6,162.30"/>
<polyline points="531.3,158.50 606.5,159.75 681.6,173.84"/>
<polyline points="531.3,158.50 606.5,166.92 681.6,169.90"/>
<polyline points="531.3,158.50 606.5,158.73 681.6,163.80"/>
<polyline points="531.3,158.50 606.5,168.92 681.6,165.42"/>
<polyline points="531.3,158.50 606.5,158.44 681.6,174.06"/>
<polyline points="531.3,158.50 606.5,168.00 681.6,171.55"/>
<polyline points="531.3,158.50 606.5,158.63 681.6,173.10"/>
<polyline points="531.3,158.50 606.5,158.34 681.6,173.18"/>
<polyline points="531.3,158.50 606.5,164.93 681.6,164.02"/>
<polyline points="531.3,158.50 606.5,166.62 681.6,173.59"/>
<polyline points="531.3,158.50 606.5,161.76 681.6,164.63"/>
<polyline points="531.3,158.50 606.5,166.17 681.6,162.38"/>
<polyline points="531.3,158.50 606.5,159.07 681.6,165.01"/>
<polyline points="531.3,158.50 606.5,158.06 681.6,165.48"/>
<polyline points="531.3,158.50 606.5,162.52 681.6,166.68"/>
<polyline points="531.3,158.50 606.5,170.13 681.6,162.83"/>
<polyline points="531.3,158.50 606.5,165.72 681.6,161.40"/>
<polyline points="531.3,158.50 606.5,163.11 681.6,163.34"/>
<polyline points="531.3,158.50 606.5,161.47 681.6,163.30"/>
<polyline points="531.3,158.50 606.5,169.68 681.6,167.22"/>
<polyline points="531.3,158.50 606.5,160.43 681.6,168.66"/>
<polyline points="531.3,158.50 606.5,173.11 681.6,159.73"/>
<polyline points="531.3,158.50 606.5,171.14 681.6,165.22"/>
<polyline points="531.3,158.50 606.5,165.63 681.6,172.09"/>
<polyline points="531.3,158.50 606.5,163.90 681.6,169.03"/>
<polyline points="531.3,158.50 606.5,168.91 681.6,174.49"/>
<polyline points="531.3,158.50 606.5,163.04 681.6,172.83"/>
<polyline points="531.3,158.50 606.5,169.23 681.6,168.85"/>
<polyline points="531.3,158.50 606.5,164.09 681.6,164.16"/>
<polyline points="531.3,158.50 606.5,158.13 681.6,164.64"/>
<polyline points="531.3,158.50 606.5,158.41 681.6,171.76"/>
<polyline points="531.3,158.50 606.5,161.56 681.6,165.03"/>
<polyline points="531.3,158.50 606.5,158.64 681.6,172.93"/>
<polyline points="531.3,158.50 606.5,172.02 681.6,169.23"/>
<polyline points="531.3,158.50 606.5,162.00 681.6,165.95"/>
<polyline points="531.3,158.50 606.5,162.19 681.6,168.48"/>
<polyline points="531.3,158.50 606.5,159.89 681.6,168.32"/>
<polyline points="531.3,158.50 606.5,161.69 681.6,174.33"/>
<polyline points="531.3,158.50 606.5,173.76 681.6,167.15"/>
<polyline points="531.3,158.50 606.5,161.37 681.6,174.38"/>
<polyline points="531.3,158.50 606.5,162.47 681.6,167.28"/>
<polyline points="531.3,158.50 606.5,157.22 681.6,167.57"/>
<polyline points="531.3,158.50 606.5,165.28 681.6,166.68"/>
<polyline points="531.3,158.50 606.5,160.63 681.6,169.01"/>
<polyline points="531.3,158.50 606.5,157.29 681.6,166.20"/>
<polyline points="531.3,158.50 606.5,158.73 681.6,167.78"/>
<polyline points="531.3,158.50 606.5,180.51 681.6,230.65"/>
<polyline points="531.3,158.50 606.5,183.66 681.6,219.55"/>
<polyline points="531.3,158.50 606.5,186.62 681.6,188.10"/>
<polyline points="531.3,158.50 606.5,189.76 681.6,225.10"/>
<polyline points="531.3,158.50 606.5,191.80 681.6,199.20"/>
<polyline points="531.3,158.50 606.5,196.79 681.6,180.70"/>
<polyline points="531.3,158.50 606.5,199.94 681.6,206.60"/>
<polyline points="531.3,158.50 606.5,204.94 681.6,175.15"/>
<polyline points="531.3,158.50 606.5,208.08 681.6,212.15"/>
<polyline points="531.3,158.50 606.5,211.04 681.6,177.00"/>
<polyline points="531.3,158.50 606.5,215.11 681.6,173.30"/>
<polyline points="531.3,158.50 606.5,220.29 681.6,221.40"/>
<polyline points="531.3,158.50 606.5,224.36 681.6,186.25"/>
<polyline points="531.3,158.50 606.5,229.36 681.6,230.65"/>
<polyline points="531.3,158.50 606.5,233.43 681.6,195.50"/>
<polyline points="531.3,158.50 606.5,237.50 681.6,241.75"/>
<polyline points="531.3,158.50 606.5,245.63 681.6,241.56"/>
<polyline points="531.3,158.50 606.5,249.70 681.6,173.30"/>
<polyline points="531.3,158.50 606.5,176.07 681.6,182.55"/>
<polyline points="531.3,158.50 606.5,177.00 681.6,188.10"/>
<polyline points="531.3,158.50 606.5,177.93 681.6,178.85"/>
<polyline points="531.3,158.50 606.5,175.52 681.6,185.32"/>
<polyline points="531.3,158.50 606.5,178.85 681.6,176.07"/>
<polyline points="531.3,158.50 606.5,176.63 681.6,195.50"/>
<polyline points="531.3,158.50 606.5,179.22 681.6,181.62"/>
<polyline points="531.3,158.50 606.5,175.15 681.6,177.93"/>
</g>
<polyline points="531.3,158.50 606.5,173.30 681.6,172.93" fill="none" stroke="#000" stroke-width="2.1" stroke-linejoin="round"/>
<rect x="531.3" y="153.6" width="150.30000000000007" height="101.80000000000001" fill="none" stroke="#1a1a1a" stroke-width="1.0"/>
<line x1="531.30" y1="153.60" x2="531.30" y2="256.00" stroke="#1a1a1a" stroke-width="1.4" />
<line x1="530.70" y1="255.40" x2="681.60" y2="255.40" stroke="#1a1a1a" stroke-width="1.4" />
<text x="527.50" y="161.20" font-size="8.9" text-anchor="end" fill="#111" color="#111" >0</text>
<text x="527.50" y="179.70" font-size="8.9" text-anchor="end" fill="#111" color="#111" >&#8722;1</text>
<text x="527.50" y="198.20" font-size="8.9" text-anchor="end" fill="#111" color="#111" >&#8722;2</text>
<text x="527.50" y="216.70" font-size="8.9" text-anchor="end" fill="#111" color="#111" >&#8722;3</text>
<text x="527.50" y="235.20" font-size="8.9" text-anchor="end" fill="#111" color="#111" >&#8722;4</text>
<text x="527.50" y="253.70" font-size="8.9" text-anchor="end" fill="#111" color="#111" >&#8722;5</text>
<text x="533.10" y="149.60" font-size="8.9" text-anchor="start" fill="#111" color="#111" >Decreased (n = 106)</text>
<text x="529.10" y="264.90" font-size="8.9" text-anchor="start" fill="#111" color="#111" >0 h</text>
<text x="606.45" y="264.90" font-size="8.9" text-anchor="middle" fill="#111" color="#111" >2 h</text>
<text x="672.30" y="264.90" font-size="8.9" text-anchor="start" fill="#111" color="#111" >6 h</text>
<text x="513.9" y="200.7" font-size="8.9" text-anchor="middle" fill="#1a1a1a" transform="rotate(-90 513.9 200.7)">Log<tspan font-size="5.3" dy="1.9">2</tspan><tspan dy="-1.9"> (Fold Change)</tspan></text>
<polygon points="530.8,339.2 605.95,326.27 681.1,323.93 681.1,354.47 605.95,352.71" fill="#000" fill-opacity="0.05"/>
<polygon points="530.8,339.2 605.95,331.44 681.1,332.74 681.1,346.25 605.95,345.78" fill="#000" fill-opacity="0.28"/>
<polygon points="530.8,339.2 605.95,333.91 681.1,334.50 681.1,345.07 605.95,344.13" fill="#000" fill-opacity="0.33"/>
<g stroke="#000000" stroke-opacity="0.075" stroke-width="1.6" fill="none" stroke-linejoin="round">
<polyline points="530.8,339.20 606.0,299.01 681.1,376.80"/>
<polyline points="530.8,339.20 606.0,319.69 681.1,333.32"/>
<polyline points="530.8,339.20 606.0,322.75 681.1,325.10"/>
<polyline points="530.8,339.20 606.0,350.95 681.1,360.35"/>
<polyline points="530.8,339.20 606.0,354.47 681.1,362.70"/>
<polyline points="530.8,339.20 606.0,367.40 681.1,328.62"/>
<polyline points="530.8,339.20 606.0,368.57 681.1,355.65"/>
<polyline points="530.8,339.20 606.0,376.80 681.1,293.38"/>
<polyline points="530.8,339.20 606.0,353.30 681.1,311.00"/>
<polyline points="530.8,339.20 606.0,332.15 681.1,311.00"/>
<polyline points="530.8,339.20 606.0,329.80 681.1,320.40"/>
<polyline points="530.8,339.20 606.0,327.45 681.1,328.62"/>
<polyline points="530.8,339.20 606.0,349.77 681.1,366.22"/>
<polyline points="530.8,339.20 606.0,328.62 681.1,356.82"/>
<polyline points="530.8,339.20 606.0,346.25 681.1,369.75"/>
<polyline points="530.8,339.20 606.0,333.32 681.1,361.52"/>
<polyline points="530.8,339.20 606.0,323.93 681.1,315.70"/>
<polyline points="530.8,339.20 606.0,348.60 681.1,318.05"/>
<polyline points="530.8,339.20 606.0,360.35 681.1,372.10"/>
<polyline points="530.8,339.20 606.0,345.07 681.1,352.12"/>
<polyline points="530.8,339.20 606.0,332.46 681.1,353.82"/>
<polyline points="530.8,339.20 606.0,320.92 681.1,324.09"/>
<polyline points="530.8,339.20 606.0,356.51 681.1,356.20"/>
</g>
<g stroke="#000000" stroke-opacity="0.012" stroke-width="1.6" fill="none" stroke-linejoin="round">
</g>
<polyline points="530.8,339.20 606.0,339.20 681.1,339.20" fill="none" stroke="#000" stroke-width="2.1" stroke-linejoin="round"/>
<rect x="530.8" y="287.7" width="150.30000000000007" height="102.30000000000001" fill="none" stroke="#1a1a1a" stroke-width="1.0"/>
<line x1="530.80" y1="287.70" x2="530.80" y2="390.60" stroke="#1a1a1a" stroke-width="1.4" />
<line x1="530.20" y1="390.00" x2="681.10" y2="390.00" stroke="#1a1a1a" stroke-width="1.4" />
<text x="527.00" y="294.90" font-size="8.9" text-anchor="end" fill="#111" color="#111" >4</text>
<text x="527.00" y="318.40" font-size="8.9" text-anchor="end" fill="#111" color="#111" >2</text>
<text x="527.00" y="341.90" font-size="8.9" text-anchor="end" fill="#111" color="#111" >0</text>
<text x="527.00" y="365.40" font-size="8.9" text-anchor="end" fill="#111" color="#111" >&#8722;2</text>
<text x="527.00" y="388.90" font-size="8.9" text-anchor="end" fill="#111" color="#111" >&#8722;4</text>
<text x="530.30" y="285.00" font-size="8.9" text-anchor="start" fill="#111" color="#111" >No&#8722;sig (n = 591)</text>
<text x="528.60" y="399.60" font-size="8.9" text-anchor="start" fill="#111" color="#111" >0 h</text>
<text x="605.95" y="399.60" font-size="8.9" text-anchor="middle" fill="#111" color="#111" >2 h</text>
<text x="671.80" y="399.60" font-size="8.9" text-anchor="start" fill="#111" color="#111" >6 h</text>
<text x="513.5" y="336.5" font-size="8.9" text-anchor="middle" fill="#1a1a1a" transform="rotate(-90 513.5 336.5)">Log<tspan font-size="5.3" dy="1.9">2</tspan><tspan dy="-1.9"> (Fold Change)</tspan></text>
<rect x="325.90" y="423.90" width="89.90" height="8.35" fill="#8b0000"/>
<rect x="325.90" y="433.35" width="73.00" height="8.35" fill="#8b0000"/>
<rect x="325.90" y="442.80" width="68.40" height="8.35" fill="#8b0000"/>
<rect x="325.90" y="452.25" width="65.20" height="8.35" fill="#8b0000"/>
<rect x="325.90" y="461.70" width="58.10" height="8.35" fill="#8b0000"/>
<rect x="325.90" y="471.15" width="55.10" height="8.35" fill="#8b0000"/>
<rect x="325.90" y="480.60" width="43.20" height="8.35" fill="#8b0000"/>
<rect x="325.90" y="490.05" width="42.20" height="8.35" fill="#8b0000"/>
<rect x="325.90" y="499.50" width="40.40" height="8.35" fill="#8b0000"/>
<rect x="325.90" y="508.95" width="35.30" height="8.35" fill="#8b0000"/>
<rect x="321.6" y="422.2" width="98.59999999999997" height="96.50000000000006" fill="none" stroke="#1a1a1a" stroke-width="1.1"/>
<line x1="321.60" y1="422.20" x2="321.60" y2="519.30" stroke="#1a1a1a" stroke-width="1.3" />
<line x1="321.00" y1="518.70" x2="420.20" y2="518.70" stroke="#1a1a1a" stroke-width="1.3" />
<text x="319.60" y="429.90" font-size="8.9" text-anchor="end" fill="#111" color="#111" >Chromatin remodeling</text>
<text x="319.60" y="439.32" font-size="8.9" text-anchor="end" fill="#111" color="#111" >Chromatin organization</text>
<text x="319.60" y="448.74" font-size="8.9" text-anchor="end" fill="#111" color="#111" >Mitochondrial translation</text>
<text x="319.60" y="458.16" font-size="8.9" text-anchor="end" fill="#111" color="#111" >RNA splicing</text>
<text x="319.60" y="467.58" font-size="8.9" text-anchor="end" fill="#111" color="#111" >In utero embryonic development</text>
<text x="319.60" y="477.00" font-size="8.9" text-anchor="end" fill="#111" color="#111" >mRNA processing</text>
<text x="319.60" y="486.42" font-size="8.9" text-anchor="end" fill="#111" color="#111" >Amyloid&#8722;beta clearance by transcytosis</text>
<text x="319.60" y="495.84" font-size="8.9" text-anchor="end" fill="#111" color="#111" >Regulation of cell shape</text>
<text x="319.60" y="505.26" font-size="8.9" text-anchor="end" fill="#111" color="#111" >rRNA processing</text>
<text x="319.60" y="514.68" font-size="8.9" text-anchor="end" fill="#111" color="#111" >Ribosome biogenesis</text>
<text x="327.80" y="527.40" font-size="8.9" text-anchor="middle" fill="#111" color="#111" >0</text>
<text x="353.00" y="527.40" font-size="8.9" text-anchor="middle" fill="#111" color="#111" >2</text>
<text x="378.10" y="527.40" font-size="8.9" text-anchor="middle" fill="#111" color="#111" >4</text>
<text x="403.20" y="527.40" font-size="8.9" text-anchor="middle" fill="#111" color="#111" >6</text>
<text x="343.3" y="536.2" font-size="8.9" fill="#1a1a1a"><tspan font-style="italic">p</tspan>-value (-log<tspan font-size="6" dy="1.8">10</tspan><tspan dy="-1.8">)</tspan></text>
<text x="292.30" y="416.90" font-size="8.9" text-anchor="start" fill="#111" color="#111" >Biological Processes (Increased)</text>
<rect x="583.30" y="422.60" width="89.60" height="8.45" fill="#4682b4"/>
<rect x="583.30" y="432.10" width="80.40" height="8.45" fill="#4682b4"/>
<rect x="583.30" y="441.60" width="60.50" height="8.45" fill="#4682b4"/>
<rect x="583.30" y="451.10" width="38.70" height="8.45" fill="#4682b4"/>
<rect x="583.30" y="460.60" width="34.70" height="8.45" fill="#4682b4"/>
<rect x="583.30" y="470.10" width="29.10" height="8.45" fill="#4682b4"/>
<rect x="583.30" y="479.60" width="25.40" height="8.45" fill="#4682b4"/>
<rect x="583.30" y="489.10" width="25.00" height="8.45" fill="#4682b4"/>
<rect x="583.30" y="498.60" width="19.90" height="8.45" fill="#4682b4"/>
<rect x="583.30" y="508.10" width="19.40" height="8.45" fill="#4682b4"/>
<rect x="578.8" y="421.4" width="97.70000000000005" height="95.89999999999998" fill="none" stroke="#1a1a1a" stroke-width="1.1"/>
<line x1="578.80" y1="421.40" x2="578.80" y2="517.90" stroke="#1a1a1a" stroke-width="1.3" />
<line x1="578.20" y1="517.30" x2="676.50" y2="517.30" stroke="#1a1a1a" stroke-width="1.3" />
<text x="576.00" y="428.60" font-size="8.9" text-anchor="end" fill="#111" color="#111" >mRNA processing</text>
<text x="576.00" y="438.30" font-size="8.9" text-anchor="end" fill="#111" color="#111" >RNA splicing</text>
<text x="576.00" y="447.80" font-size="8.9" text-anchor="end" fill="#111" color="#111" >rRNA processing</text>
<text x="576.00" y="455.70" font-size="8.9" text-anchor="end" fill="#111" color="#111" >Ribosome biogenesis</text>
<text x="576.00" y="464.50" font-size="8.9" text-anchor="end" fill="#111" color="#111" >Regulation of alternative mRNA</text>
<text x="576.00" y="470.90" font-size="8.9" text-anchor="end" fill="#111" color="#111" >splicing, via spliceosome</text>
<text x="576.00" y="478.60" font-size="8.9" text-anchor="end" fill="#111" color="#111" >Ribosomal small subunit biogenesis</text>
<text x="576.00" y="487.10" font-size="8.9" text-anchor="end" fill="#111" color="#111" >Cytoplasmic translation</text>
<text x="576.00" y="496.80" font-size="8.9" text-anchor="end" fill="#111" color="#111" >mRNA splicing, via spliceosome</text>
<text x="576.00" y="506.20" font-size="8.9" text-anchor="end" fill="#111" color="#111" >Regulation of RNA splicing</text>
<text x="576.00" y="515.50" font-size="8.9" text-anchor="end" fill="#111" color="#111" >Translation</text>
<text x="584.00" y="526.20" font-size="8.9" text-anchor="middle" fill="#111" color="#111" >0</text>
<text x="602.00" y="526.20" font-size="8.9" text-anchor="middle" fill="#111" color="#111" >10</text>
<text x="620.10" y="526.20" font-size="8.9" text-anchor="middle" fill="#111" color="#111" >20</text>
<text x="637.80" y="526.20" font-size="8.9" text-anchor="middle" fill="#111" color="#111" >30</text>
<text x="655.20" y="526.20" font-size="8.9" text-anchor="middle" fill="#111" color="#111" >40</text>
<text x="672.90" y="526.20" font-size="8.9" text-anchor="middle" fill="#111" color="#111" >50</text>
<text x="602.7" y="537.1" font-size="8.9" fill="#1a1a1a"><tspan font-style="italic">p</tspan>-value (-log<tspan font-size="6" dy="1.8">10</tspan><tspan dy="-1.8">)</tspan></text>
<text x="545.20" y="416.70" font-size="8.9" text-anchor="start" fill="#111" color="#111" >Biological Processes (Decreased)</text>
</svg></body></html>
